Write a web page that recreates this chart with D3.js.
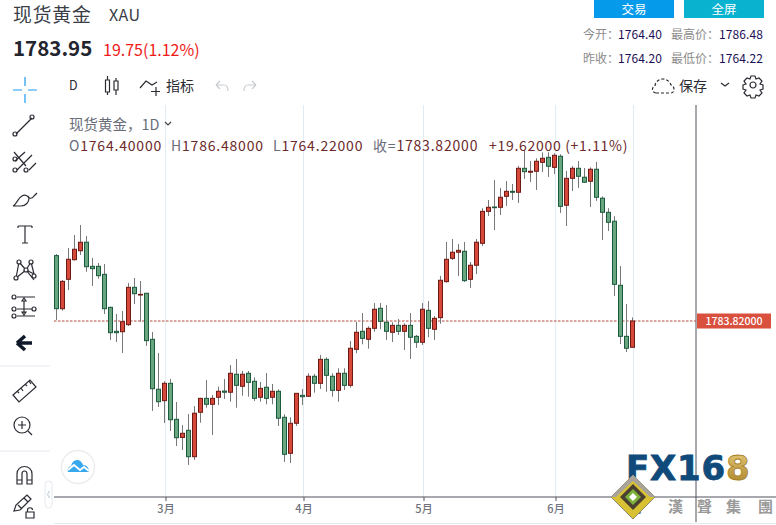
<!DOCTYPE html>
<html>
<head>
<meta charset="utf-8">
<style>
  html, body { margin: 0; padding: 0; background: #fff; }
  svg { display: block; }
  text { font-family: "Noto Sans CJK SC", "Open Sans", sans-serif; }
  .ic { fill: none; stroke: #2b2b33; stroke-width: 1.2; }
</style>
<script src="https://cdn.jsdelivr.net/npm/d3@7"></script>
</head>
<body>
<script>
// daily gold candles
const opens = [1832.1,1792.9,1814.6,1829.1,1835.7,1842.0,1824.2,1824.2,1818.3,1793.9,1776.2,1775.9,1781.1,1808.7,1803.0,1804.3,1770.3,1733.4,1725.0,1737.8,1711.2,1697.8,1703.1,1683.6,1716.4,1726.7,1722.3,1727.5,1732.1,1731.2,1744.5,1735.6,1745.2,1739.3,1727.5,1734.9,1727.5,1731.9,1712.7,1686.1,1708.3,1728.9,1728.2,1743.0,1737.8,1755.5,1743.0,1732.6,1745.2,1736.3,1762.9,1776.2,1770.3,1778.4,1793.2,1782.9,1775.5,1780.6,1776.2,1780.6,1772.5,1768.1,1791.7,1777.7,1786.3,1812.9,1830.1,1834.6,1835.3,1814.6,1825.0,1841.2,1864.8,1868.0,1867.8,1875.9,1879.6,1878.9,1896.6,1893.7,1894.4,1901.0,1904.7,1897.3,1905.5,1869.3,1889.2,1896.6,1890.0,1887.0,1895.9,1874.5,1864.1,1857.5,1810.2,1772.5,1764.40];
const closes = [1792.9,1813.1,1829.4,1836.8,1842.0,1823.9,1822.5,1817.3,1792.9,1775.2,1775.2,1783.3,1808.7,1804.0,1803.5,1769.3,1733.8,1724.2,1737.8,1710.9,1697.6,1700.9,1683.6,1715.7,1726.7,1722.3,1726.7,1731.9,1731.2,1745.2,1736.3,1744.5,1738.5,1726.7,1734.1,1726.7,1731.9,1712.0,1685.4,1708.3,1730.4,1727.9,1743.0,1737.8,1755.5,1743.7,1732.6,1745.2,1736.3,1763.7,1775.5,1771.0,1778.4,1792.5,1783.6,1776.2,1780.6,1776.2,1780.6,1771.8,1768.1,1792.5,1778.4,1785.8,1813.9,1829.4,1834.6,1836.0,1813.6,1825.0,1842.0,1864.8,1867.8,1867.5,1875.2,1879.6,1878.9,1896.6,1894.1,1894.4,1901.8,1904.0,1898.1,1906.2,1868.5,1889.2,1896.6,1890.7,1886.3,1895.9,1875.2,1864.1,1856.7,1810.9,1772.5,1763.7,1783.82];
const highs = [1833.3,1814.1,1837.7,1847.3,1854.7,1846.6,1830.4,1826.7,1825.9,1794.4,1789.0,1791.2,1811.9,1815.6,1813.4,1804.5,1775.7,1760.2,1739.3,1741.0,1724.0,1707.0,1715.1,1721.0,1727.0,1740.2,1729.2,1735.3,1741.0,1751.3,1755.8,1746.9,1746.9,1742.2,1738.8,1745.4,1737.3,1733.4,1714.9,1712.7,1730.6,1733.6,1745.2,1744.7,1758.7,1757.0,1745.2,1748.9,1748.9,1769.0,1783.1,1789.7,1779.9,1797.1,1797.1,1795.6,1782.9,1785.3,1782.1,1789.7,1773.5,1797.1,1798.6,1787.5,1817.1,1842.2,1844.4,1840.7,1842.2,1827.4,1844.4,1867.1,1873.2,1888.0,1882.1,1887.2,1885.0,1898.3,1910.1,1902.0,1904.0,1908.4,1908.4,1907.7,1907.0,1894.6,1898.3,1902.0,1896.8,1897.3,1901.3,1875.9,1867.1,1861.2,1824.4,1796.4,1786.48];
const lows = [1784.6,1791.4,1806.7,1828.4,1832.6,1820.2,1809.7,1815.1,1789.0,1769.8,1768.3,1760.2,1780.1,1796.4,1783.3,1765.4,1717.4,1720.3,1708.5,1702.6,1691.5,1688.5,1677.5,1681.2,1708.7,1719.8,1699.6,1721.8,1726.2,1724.2,1719.8,1728.7,1727.9,1724.7,1724.2,1722.3,1722.3,1706.3,1679.7,1678.9,1706.3,1721.8,1727.9,1730.9,1733.6,1731.6,1727.9,1724.2,1732.9,1734.6,1760.0,1766.6,1763.4,1775.9,1777.7,1769.8,1768.3,1773.5,1762.4,1755.8,1763.9,1766.1,1771.8,1769.8,1781.8,1812.1,1828.9,1817.1,1812.6,1808.2,1818.5,1839.2,1861.4,1851.0,1862.1,1868.8,1873.2,1871.0,1888.7,1886.5,1880.6,1893.9,1890.2,1892.4,1863.6,1854.0,1879.8,1882.1,1885.8,1868.0,1872.5,1843.7,1850.3,1802.3,1766.8,1760.9,1764.22];
const monthTicks = [18.2, 41.2, 61.2, 83.2, 96.2];
const monthLabels = ["3月", "4月", "5月", "6月", "7月"];
const lastClose = 1783.82;

const w = 776, h = 525;
const paneTop = 105, paneBottom = 497, paneRight = 696;

const xScale = d3.scaleLinear().domain([0, 96]).range([56.3, 632.3]);
const yScale = d3.scaleLinear().domain([1783.82, 1900]).range([321, 321 - 116.18 * 1.354]);

const svg = d3.select("body").append("svg").attr("width", w).attr("height", h);

// gridlines + month axis
const grid = svg.append("g");
grid.selectAll("line").data(monthTicks).enter().append("line")
    .attr("x1", d => xScale(d)).attr("x2", d => xScale(d))
    .attr("y1", paneTop).attr("y2", paneBottom)
    .attr("stroke", "#e3ebf2").attr("stroke-width", 1);

const xAxis = d3.axisBottom(xScale)
    .tickValues(monthTicks)
    .tickFormat((d, i) => monthLabels[i])
    .tickSize(4).tickPadding(4);
const axisG = svg.append("g").attr("transform", `translate(0,${paneBottom})`).call(xAxis);
axisG.select(".domain").remove();
axisG.selectAll("line").attr("stroke", "#50535e");
axisG.selectAll("text").attr("fill", "#6f727c").attr("font-size", 11).attr("font-weight", 500);
svg.append("line").attr("x1", 54).attr("x2", w).attr("y1", paneBottom).attr("y2", paneBottom).attr("stroke", "#50535e");
svg.append("line").attr("x1", paneRight).attr("x2", paneRight).attr("y1", paneTop).attr("y2", 522).attr("stroke", "#50535e");
svg.append("line").attr("x1", 54).attr("x2", w).attr("y1", 523.5).attr("y2", 523.5).attr("stroke", "#e6e8ee");

// last price line
svg.append("line")
    .attr("x1", 54).attr("x2", paneRight)
    .attr("y1", yScale(lastClose)).attr("y2", yScale(lastClose))
    .attr("stroke", "#b8483a").attr("stroke-dasharray", "2.5,1.5");

// candles
const idx = d3.range(opens.length);
const candles = svg.append("g");
candles.selectAll(".wick").data(idx).enter().append("line")
    .attr("class", "wick")
    .attr("x1", i => Math.round(xScale(i)) + 0.5).attr("x2", i => Math.round(xScale(i)) + 0.5)
    .attr("y1", i => yScale(highs[i])).attr("y2", i => yScale(lows[i]))
    .attr("stroke", "#787878");
candles.selectAll(".body").data(idx).enter().append("rect")
    .attr("class", "body")
    .attr("x", i => Math.round(xScale(i)) - 1.5)
    .attr("width", 4)
    .attr("y", i => yScale(Math.max(opens[i], closes[i])))
    .attr("height", i => Math.max(0.6, Math.abs(yScale(opens[i]) - yScale(closes[i]))))
    .attr("fill", i => closes[i] >= opens[i] ? "#d6483a" : "#69a680")
    .attr("stroke", i => closes[i] >= opens[i] ? "#6d1a14" : "#1b5a3c")
    .attr("stroke-width", 1);

// price tag
svg.append("rect").attr("x", 697).attr("y", yScale(lastClose) - 7.5).attr("width", 74).attr("height", 15).attr("fill", "#d9503f");
svg.append("text").attr("x", 734).attr("y", yScale(lastClose) + 4).attr("text-anchor", "middle")
    .attr("fill", "#fff").attr("font-size", 10.5).attr("font-weight", 500).text(lastClose.toFixed(5));

function label(x, y, str, size, fill, opts) {
  opts = opts || {};
  return svg.append("text").attr("x", x).attr("y", y).attr("font-size", size).attr("fill", fill)
      .attr("font-weight", opts.weight || 400)
      .attr("text-anchor", opts.anchor || "start")
      .attr("letter-spacing", opts.spacing || 0)
      .text(str);
}

// header
label(13, 22, "现货黄金", 18.8, "#3a3d46", { spacing: 0.9 });
label(109, 21, "XAU", 16, "#3a3d46", { spacing: 0.4 });
label(13, 56, "1783.95", 20.5, "#23252e", { weight: 700 });
label(103, 56, "19.75(1.12%)", 16, "#f01a1a");

svg.append("rect").attr("x", 594).attr("y", 0).attr("width", 80).attr("height", 18).attr("fill", "#069bea");
svg.append("rect").attr("x", 684).attr("y", 0).attr("width", 80).attr("height", 18).attr("fill", "#09b2cf");
label(634, 14, "交易", 12.5, "#fff", { anchor: "middle" });
label(724, 14, "全屏", 12.5, "#fff", { anchor: "middle" });

label(583, 39, "今开：", 12, "#8b8b8b");
label(618, 39, "1764.40", 12, "#1b0f55", { spacing: 0.1 });
label(671, 39, "最高价：", 12, "#8b8b8b");
label(719, 39, "1786.48", 12, "#1b0f55", { spacing: 0.1 });
label(583, 63, "昨收：", 12, "#8b8b8b");
label(618, 63, "1764.20", 12, "#1b0f55", { spacing: 0.1 });
label(671, 63, "最低价：", 12, "#8b8b8b");
label(719, 63, "1764.22", 12, "#1b0f55", { spacing: 0.1 });

// top toolbar
label(69, 90, "D", 12.5, "#2b2b33");
label(166, 91, "指标", 14, "#2b2b33");
label(679, 91, "保存", 14, "#2b2b33");
const ic = (d, stroke, extra) => svg.append("path").attr("d", d).attr("class", "ic").style("stroke", stroke || null).attr("stroke-dasharray", extra || null);
ic("M107.5 76v4M107.5 92v3M116 78v3M116 90v5");
ic("M105.5 80h4v12h-4zM114 81h4v9h-4z");
ic("M140 88l6-7 6 4 5-3M156 87v9M151 91.5h9");
ic("M216 85l4-4M216 85l4 4M216 85h8c3 0 4 3 4 6", "#c9cbd0");
ic("M256 85l-4-4M256 85l-4 4M256 85h-8c-3 0-4 3-4 6", "#c9cbd0");
ic("M656 93c-4 0-5-6-1-7 0-4 4-7 8-7 4 0 7 3 8 6 4 1 4 8 0 8z", "#2b2b33", "3,2");
ic("M721 83l4 3 4-3");
// gear
const gear = svg.append("g").attr("transform", "translate(753,85)");
gear.append("circle").attr("r", 3).attr("class", "ic");
gear.append("path").attr("class", "ic").attr("d", "M-2-9h4l1 3 3-1 3 3-2 3 3 1v4l-3 1 2 3-3 3-3-1-1 3h-4l-1-3-3 1-3-3 2-3-3-1v-4l3-1-2-3 3-3 3 1z");

// legend
label(69, 130, "现货黄金，1D", 14.5, "#6a6d78");
ic("M165 122l3 3 3-3", "#444");
const ohlc = [
  [69, "O", "1764.40000"], [171, "H", "1786.48000"], [273, "L", "1764.22000"], [373, "收=", "1783.82000"]
];
ohlc.forEach(d => {
  const t = label(d[0], 151, "", 14, "#6a6d78", { spacing: 0.8 });
  t.append("tspan").text(d[1]);
  t.append("tspan").attr("fill", "#6d2a2a").text(d[2]);
});
label(489, 151, "+19.62000 (+1.11%)", 14, "#6d2a2a", { spacing: 0.7 });

// left tools
ic("M25 77v9M25 94v9M13 90h9M28 90h9", "#1d9bf0");
ic("M16 134l16-16");
svg.append("circle").attr("cx", 15).attr("cy", 134).attr("r", 2).attr("class", "ic");
svg.append("circle").attr("cx", 32).attr("cy", 117).attr("r", 2).attr("class", "ic");
ic("M15 161l10-9M17 170l15-15M29 170l7-7M14 152l12 14");
svg.append("circle").attr("cx", 15).attr("cy", 159).attr("r", 2).attr("class", "ic");
svg.append("circle").attr("cx", 15).attr("cy", 170).attr("r", 2).attr("class", "ic");
svg.append("circle").attr("cx", 26).attr("cy", 170).attr("r", 2).attr("class", "ic");
ic("M13 206c3-1 5-8 9-10 3-2 6 0 7 2 0 4-3 8-8 8zM28 196c1 3 4 3 6 0l3-3");
ic("M18 226h14M25 226v17M22 243h6M18 226v2M32 226v2");
ic("M16 278l3-16 7 8 5-8 3 12-8-4-10 8M19 262l7 8 8 10");
[[19,262],[31,262],[26,270],[16,278],[34,276]].forEach(p => svg.append("circle").attr("cx", p[0]).attr("cy", p[1]).attr("r", 2).attr("class", "ic").style("fill", "#fff"));
ic("M17 297h18M17 309h15M17 316h18M24 301v12M24 298l-2 3h4zM24 315l-2-3h4z");
[[14,297],[14,309],[14,316],[34,309]].forEach(p => svg.append("circle").attr("cx", p[0]).attr("cy", p[1]).attr("r", 2).attr("class", "ic"));
svg.append("path").attr("d", "M17 343l8-7M17 343l8 7M18 343h14").attr("fill", "none").attr("stroke", "#10192a").attr("stroke-width", 3.6);
svg.append("line").attr("x1", 0).attr("x2", 50).attr("y1", 366).attr("y2", 366).attr("stroke", "#e6e8ee");
ic("M13 395l17-15 6 7-17 15zM17 391l2 2M21 388l2 3M25 384l2 2M29 381l2 3");
svg.append("circle").attr("cx", 22).attr("cy", 425).attr("r", 8).attr("class", "ic");
ic("M18 425h8M22 421v8M28 431l4 4");
svg.append("line").attr("x1", 0).attr("x2", 50).attr("y1", 451).attr("y2", 451).attr("stroke", "#e6e8ee");
ic("M17 484v-10c0-10 15-10 15 0v10h-5v-10c0-4-5-4-5 0v10zM17 480h5M27 480h5");
ic("M14 511l2-6 11-10 4 4-11 11zM18 505l4 4M24 498l4 4");
ic("M26 512h8v6h-8zM27.5 512v-2c0-3 5-3 5 0");
svg.append("rect").attr("x", 45).attr("y", 481).attr("width", 7).attr("height", 27).attr("rx", 3.5).attr("fill", "#fff").attr("stroke", "#e6e8ee");
ic("M49.5 491l-2 3.5 2 3.5", "#c3d2de");

// cloud badge
svg.append("circle").attr("cx", 78).attr("cy", 467).attr("r", 16.5).attr("fill", "#fff").attr("stroke", "#ececec").attr("stroke-width", 1.4);
svg.append("path").attr("fill", "#37a8ee").attr("d", "M68 472c-1-3 0-5 3-6 1-4 3-6 6-6 3 0 5 2 6 5 4 0 6 3 6 7z");
svg.append("path").attr("fill", "none").attr("stroke", "#fff").attr("stroke-width", 1.8).attr("d", "M68 470l6-5 6 5 4-3 5 4");

// watermark
const grad = svg.append("defs").append("linearGradient").attr("id", "gold").attr("x1", 0).attr("x2", 0).attr("y1", 0).attr("y2", 1);
grad.append("stop").attr("offset", 0).attr("stop-color", "#e8cd80");
grad.append("stop").attr("offset", 1).attr("stop-color", "#a67e22");
const logo = svg.append("text").attr("x", 626).attr("y", 480).attr("font-size", 34).attr("font-weight", 700)
    .style("font-family", "'DejaVu Sans', sans-serif").attr("letter-spacing", 0.8).attr("fill", "#0f4a7a")
    .attr("stroke", "#0f4a7a").attr("stroke-width", 0.8);
logo.append("tspan").text("FX16");
logo.append("tspan").attr("fill", "url(#gold)").attr("stroke", "#a67e22").text("8");
svg.append("path").attr("d", "M633 475l22 22-22 22-22-22z").attr("fill", "#d8c233").attr("stroke", "#8d8a6a");
svg.append("path").attr("d", "M633 475l22 22-5 0-17-16-17 16-5 0z").attr("fill", "#a9a39a");
svg.append("path").attr("d", "M633 484l13 13-13 13-13-13z").attr("fill", "#4b3f32");
svg.append("path").attr("d", "M633 489l8 8-8 8-8-8z").attr("fill", "#7db23a");
svg.append("path").attr("d", "M633 493l4 4-4 4-4-4z").attr("fill", "#fff");
label(668, 512, "漢", 15, "#9a9a9a", { weight: 700 });
label(697, 512, "聲", 15, "#9a9a9a", { weight: 700 });
label(726, 512, "集", 15, "#9a9a9a", { weight: 700 });
label(758, 512, "團", 15, "#9a9a9a", { weight: 700 });
</script>
</body>
</html>
